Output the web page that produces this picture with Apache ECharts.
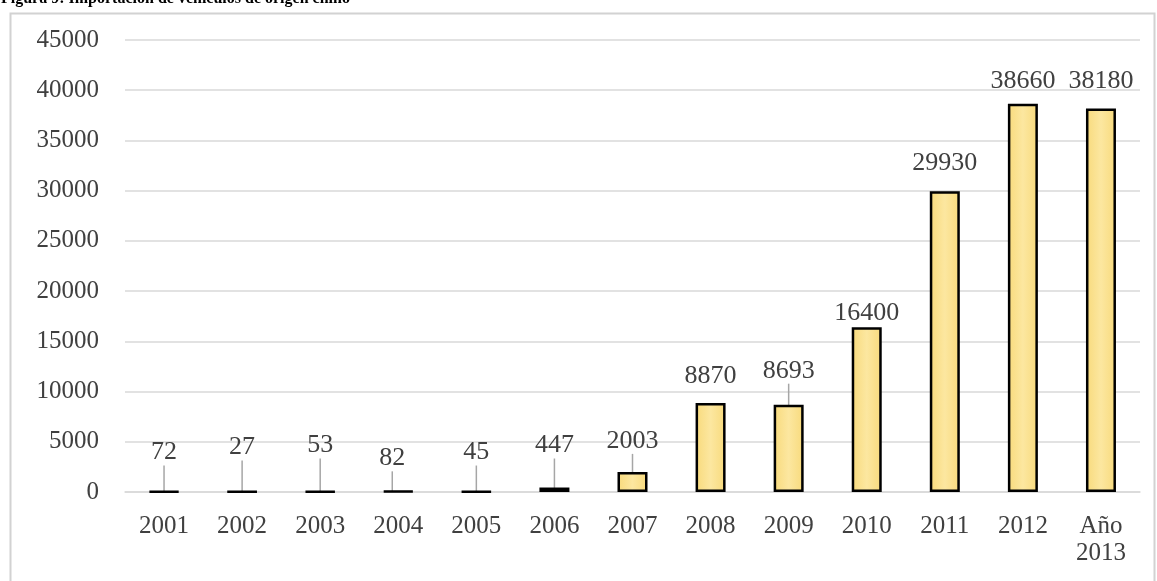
<!DOCTYPE html>
<html>
<head>
<meta charset="utf-8">
<style>
  html, body { margin: 0; padding: 0; background: #ffffff; }
  #chart { width: 1157px; height: 581px; }
</style>
<script src="https://cdn.jsdelivr.net/npm/echarts@6/dist/echarts.min.js"></script>
</head>
<body>
<div id="chart"></div>
<script>
// Vehicle imports of Chinese origin, per year
const years = ['2001', '2002', '2003', '2004', '2005', '2006', '2007',
               '2008', '2009', '2010', '2011', '2012', 'Año\n2013'];
const imports = [72, 27, 53, 82, 45, 447, 2003, 8870, 8693, 16400, 29930, 38660, 38180];

// Extra vertical lift (px) of each value label; lifted labels get a leader line
const labelRise = [-20, -25, -27, -14, -20, -24, -13, -9, -16, 4, -10, -5, -9];
const labelShift = [0, 0, 0, -6, 0, 0, 0, 0, 0, 0, 0, 0, 0];

const yTicks = { min: 0, max: 45000, step: 5000 };

const serif = '"Liberation Serif", "Times New Roman", serif';
const textGray = '#404040';

const chart = echarts.init(document.getElementById('chart'), null, { renderer: 'canvas' });

const barData = imports.map((v, i) => ({
  value: v,
  labelLine: { show: labelRise[i] <= -12 }
}));

chart.setOption({
  animation: false,
  backgroundColor: '#ffffff',
  graphic: [
    {
      type: 'rect',
      left: 8, top: 11,
      shape: { width: 1144, height: 600 },
      style: { fill: 'none', stroke: '#d2d2d2', lineWidth: 2 },
      z: -1
    },
    {
      type: 'text',
      left: 1, top: -9,
      style: {
        text: 'Figura 9: Importación de vehículos de origen chino',
        font: 'bold 16px ' + serif,
        fill: '#000000'
      }
    }
  ],
  grid: { left: 125, right: 17, top: 40, bottom: 89 },
  xAxis: {
    type: 'category',
    data: years,
    axisLine: { show: true, lineStyle: { color: '#d9d9d9', width: 1.5 } },
    axisTick: { show: false },
    axisLabel: {
      color: textGray,
      fontFamily: serif,
      fontSize: 25,
      lineHeight: 27,
      margin: 21,
      interval: 0
    }
  },
  yAxis: {
    type: 'value',
    min: yTicks.min,
    max: yTicks.max,
    interval: yTicks.step,
    axisLine: { show: false },
    axisTick: { show: false },
    splitLine: { lineStyle: { color: '#d9d9d9', width: 1.5 } },
    axisLabel: {
      color: textGray,
      fontFamily: serif,
      fontSize: 25,
      margin: 26,
      formatter: v => String(v)
    }
  },
  series: [{
    type: 'bar',
    data: barData,
    barWidth: 30,
    itemStyle: {
      color: new echarts.graphic.LinearGradient(0, 0, 1, 0, [
        { offset: 0, color: '#F8DA7C' },
        { offset: 0.5, color: '#FCE7A0' },
        { offset: 1, color: '#F8DA7C' }
      ]),
      borderColor: '#000000',
      borderWidth: 2.5
    },
    label: {
      show: true,
      position: 'top',
      distance: 5,
      color: textGray,
      fontFamily: serif,
      fontSize: 26
    },
    labelLine: {
      show: false,
      lineStyle: { color: '#a6a6a6', width: 1.5 }
    },
    labelLayout: function (params) {
      return { dy: labelRise[params.dataIndex], dx: labelShift[params.dataIndex] };
    }
  }]
});
</script>
</body>
</html>
